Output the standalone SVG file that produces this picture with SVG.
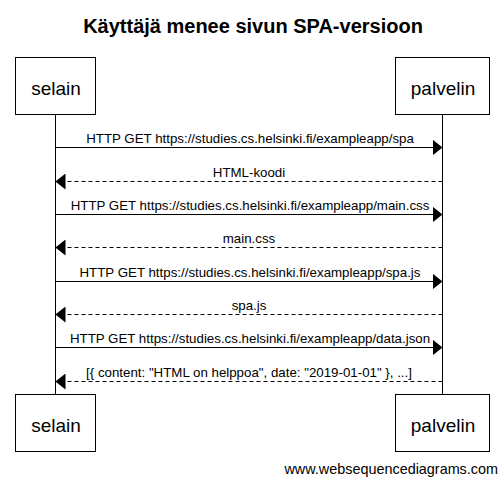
<svg xmlns="http://www.w3.org/2000/svg" width="504" height="486" viewBox="0 0 504 486">
<style>
.box{fill:#fff;stroke:#000;stroke-width:1}
.actor{font-family:"Liberation Sans",Arial,sans-serif;font-size:19px;text-anchor:middle;fill:#000}
.lbl{font-family:"Liberation Sans",Arial,sans-serif;font-size:13.3px;text-anchor:middle;fill:#000}
.life{stroke:#000;stroke-width:1}
.msg{stroke:#000;stroke-width:1;fill:none;marker-end:url(#ah)}
.ret{stroke:#000;stroke-width:1;fill:none;stroke-dasharray:4 3;marker-end:url(#ah)}
</style>
<defs>
<marker id="ah" viewBox="0 0 10 16" refX="10" refY="8" markerWidth="10" markerHeight="16" markerUnits="userSpaceOnUse" orient="auto">
<path d="M0,0 L10,8 L0,16 z" fill="#000"/>
</marker>
</defs>
<rect width="504" height="486" fill="#fff"/>
<text x="253" y="33" font-family="'Liberation Sans',Arial,sans-serif" font-size="20" font-weight="bold" text-anchor="middle">Käyttäjä menee sivun SPA-versioon</text>
<g id="lifelines">
<line class="life" x1="55.5" y1="114" x2="55.5" y2="394"/>
<line class="life" x1="442.5" y1="114" x2="442.5" y2="394"/>
</g>
<g id="selain">
<rect class="box" x="15.5" y="57.5" width="80" height="57"/>
<text class="actor" x="56" y="95">selain</text>
</g>
<g id="palvelin">
<rect class="box" x="395.5" y="57.5" width="94" height="57"/>
<text class="actor" x="443" y="95">palvelin</text>
</g>
<g id="selain-bottom">
<rect class="box" x="15.5" y="394.5" width="80" height="57"/>
<text class="actor" x="56" y="432">selain</text>
</g>
<g id="palvelin-bottom">
<rect class="box" x="395.5" y="394.5" width="94" height="57"/>
<text class="actor" x="443" y="432">palvelin</text>
</g>
<g id="connectors">
<line class="msg" x1="55.5" y1="147.5" x2="442.5" y2="147.5"/>
<text class="lbl" x="250" y="143">HTTP GET https://studies.cs.helsinki.fi/exampleapp/spa</text>
<line class="ret" x1="442.5" y1="181.5" x2="55.5" y2="181.5"/>
<text class="lbl" x="249" y="177">HTML-koodi</text>
<line class="msg" x1="55.5" y1="214.5" x2="442.5" y2="214.5"/>
<text class="lbl" x="250" y="210">HTTP GET https://studies.cs.helsinki.fi/exampleapp/main.css</text>
<line class="ret" x1="442.5" y1="247.5" x2="55.5" y2="247.5"/>
<text class="lbl" x="249" y="243">main.css</text>
<line class="msg" x1="55.5" y1="281.5" x2="442.5" y2="281.5"/>
<text class="lbl" x="250" y="277">HTTP GET https://studies.cs.helsinki.fi/exampleapp/spa.js</text>
<line class="ret" x1="442.5" y1="314.5" x2="55.5" y2="314.5"/>
<text class="lbl" x="249" y="310">spa.js</text>
<line class="msg" x1="55.5" y1="347.5" x2="442.5" y2="347.5"/>
<text class="lbl" x="250" y="343">HTTP GET https://studies.cs.helsinki.fi/exampleapp/data.json</text>
<line class="ret" x1="442.5" y1="381.5" x2="55.5" y2="381.5"/>
<text class="lbl" x="249" y="377">[{ content: "HTML on helppoa", date: "2019-01-01" }, ...]</text>
</g>
<text x="498" y="474" font-family="'Liberation Sans',Arial,sans-serif" font-size="14.4" text-anchor="end">www.websequencediagrams.com</text>
</svg>
